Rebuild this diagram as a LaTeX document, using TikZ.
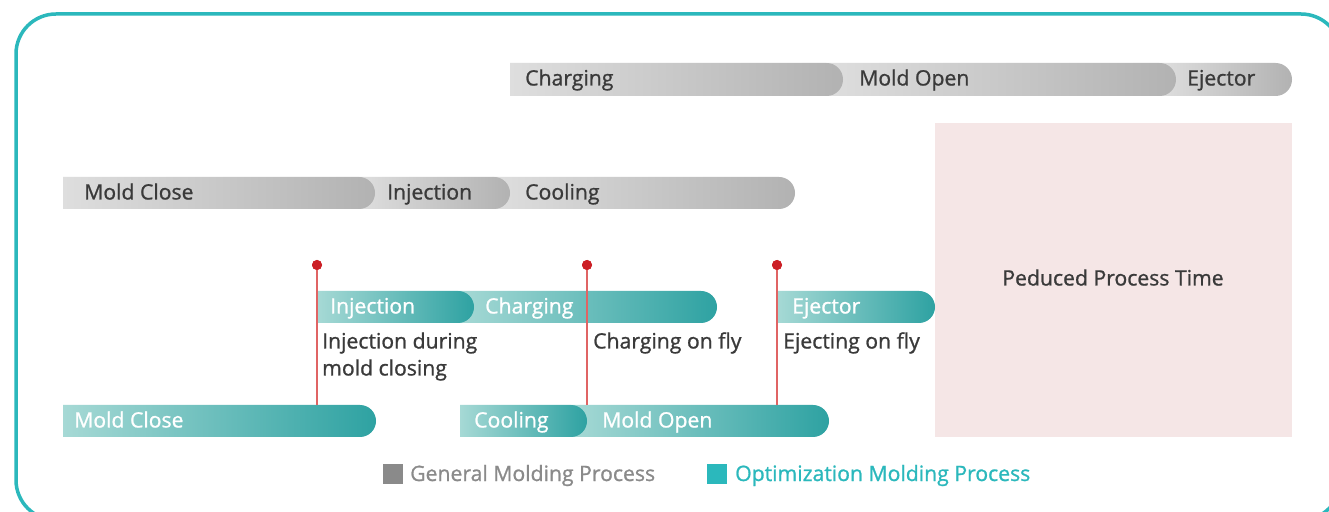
\documentclass[tikz,border=0pt]{standalone}
\usepackage{fontspec}
\setmainfont{Open Sans}[FakeBold=1]
\definecolor{gL}{HTML}{DEDEDE}
\definecolor{gR}{HTML}{B2B2B2}
\definecolor{tL}{HTML}{A6D9D5}
\definecolor{tR}{HTML}{2EA2A2}
\definecolor{frame}{HTML}{2BB8BC}
\definecolor{txt}{HTML}{3A3A3A}
\definecolor{redd}{HTML}{CC1F26}
\definecolor{redl}{HTML}{E06464}
\definecolor{pinkbg}{HTML}{F5E6E6}
\definecolor{legg}{HTML}{8A8A8A}
\newcommand\pbar[6]{%
 \shade[left color=#5,right color=#6] (#1,{511-#4}) -- ({#2-(#4-#3)/2},{511-#4})
   arc[start angle=-90,end angle=90,radius={(#4-#3)/2}] -- (#1,{511-#3}) -- cycle;}
\begin{document}
\begin{tikzpicture}[x=1pt,y=1pt,
  lbl/.style={anchor=base west,inner sep=0,font=\fontsize{21.2}{24}\selectfont},
  glbl/.style={lbl,text=txt},
  wlbl/.style={lbl,text=white},
  note/.style={anchor=base west,inner sep=0,align=left,text=txt,font=\fontsize{21.2}{27}\selectfont},
  dot/.style={circle,fill=redd,inner sep=0,minimum size=10pt},
  marker/.style={draw=redl,line width=1.5pt}]
\useasboundingbox (0,0) rectangle (1329,511);
\clip (0,0) rectangle (1329,511);
\fill[white] (0,0) rectangle (1329,511);
% frame
\draw[frame,line width=3.5pt,rounded corners=40pt] (16,-9) rectangle (1341,{511-14});
% gray top row
\pbar{1160}{1292}{63}{96}{gL}{gR}
\pbar{827}{1176}{63}{96}{gL}{gR}
\pbar{510}{843}{63}{96}{gL}{gR}
\node[glbl] (g1) at (525,{511-85.5}) {Charging};
\node[glbl] (g2) at (859,{511-85.5}) {Mold Open};
\node[glbl] (g3) at (1187,{511-85.5}) {Ejector};
% gray middle row
\pbar{494}{795}{177}{209}{gL}{gR}
\pbar{359}{510}{177}{209}{gL}{gR}
\pbar{63}{375}{177}{209}{gL}{gR}
\node[glbl] (g4) at (84,{511-199.5}) {Mold Close};
\node[glbl] (g5) at (387,{511-199.5}) {Injection};
\node[glbl] (g6) at (525,{511-199.5}) {Cooling};
% pink box
\fill[pinkbg] (935,{511-437}) rectangle (1292,{511-123});
\node[glbl,anchor=base] (red) at (1113,{511-285.5}) {Peduced Process Time};
% teal row
\pbar{458}{717}{291}{323}{tL}{tR}
\pbar{317}{474}{291}{323}{tL}{tR}
\pbar{777}{935}{291}{323}{tL}{tR}
\node[wlbl] (t1) at (330,{511-313.5}) {Injection};
\node[wlbl] (t2) at (485,{511-313.5}) {Charging};
\node[wlbl] (t3) at (792,{511-313.5}) {Ejector};
% teal bottom row
\pbar{63}{376}{405}{437}{tL}{tR}
\pbar{571}{829}{405}{437}{tL}{tR}
\pbar{460}{587}{405}{437}{tL}{tR}
\node[wlbl] (t4) at (74,{511-427.5}) {Mold Close};
\node[wlbl] (t5) at (474,{511-427.5}) {Cooling};
\node[wlbl] (t6) at (602,{511-427.5}) {Mold Open};
% markers
\coordinate (e1) at (317,{511-405});
\coordinate (e2) at (587,{511-405});
\coordinate (e3) at (777,{511-405});
\node[dot] (d1) at (317,{511-265}) {};
\node[dot] (d2) at (587,{511-265}) {};
\node[dot] (d3) at (777,{511-265}) {};
\draw[marker] (d1.center) -- (e1);
\draw[marker] (d2.center) -- (e2);
\draw[marker] (d3.center) -- (e3);
\fill[redd] (d1) circle (5pt);
\fill[redd] (d2) circle (5pt);
\fill[redd] (d3) circle (5pt);
\node[note] (n1) at (322,{511-375.5}) {Injection during\\mold closing};
\node[note] (n2) at (593,{511-348.5}) {Charging on fly};
\node[note] (n3) at (783,{511-348.5}) {Ejecting on fly};
% legend
\fill[legg] (383,{511-484}) rectangle (403,{511-464});
\node[lbl,text=legg] (l1) at (410,{511-481}) {General Molding Process};
\fill[frame] (707,{511-484}) rectangle (727,{511-464});
\node[lbl,text=frame] (l2) at (735,{511-481}) {Optimization Molding Process};
\end{tikzpicture}
\end{document}
